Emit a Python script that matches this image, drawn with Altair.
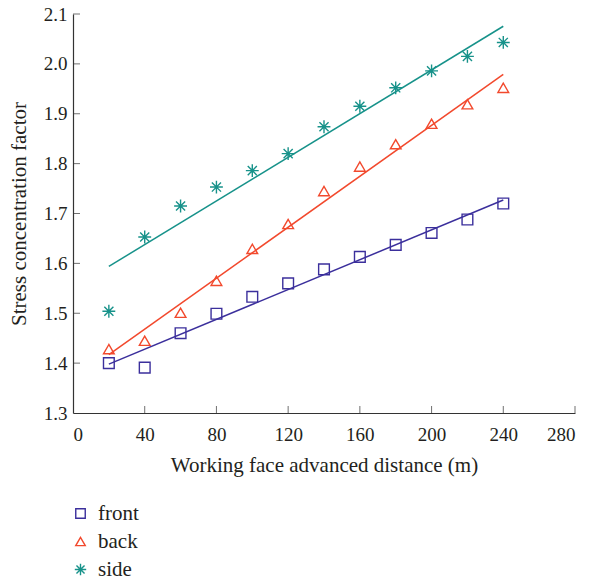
import altair as alt
import pandas as pd

# Working face advanced distance (m)
distance = [20, 40, 60, 80, 100, 120, 140, 160, 180, 200, 220, 240]

# Stress concentration factor measured at each monitoring side
front = [1.400, 1.391, 1.460, 1.499, 1.533, 1.560, 1.588, 1.613, 1.637, 1.661, 1.688, 1.720]
back = [1.428, 1.445, 1.501, 1.565, 1.629, 1.679, 1.745, 1.794, 1.839, 1.880, 1.919, 1.952]
side = [1.504, 1.653, 1.715, 1.753, 1.786, 1.820, 1.874, 1.915, 1.952, 1.986, 2.015, 2.043]

series_names = ["front", "back", "side"]
series_colors = ["#3b2f9c", "#f2492d", "#17928a"]
asterisk = "M0,-1.2L0,1.2M-1.2,0L1.2,0M-0.85,-0.85L0.85,0.85M-0.85,0.85L0.85,-0.85"
series_shapes = ["square", "triangle-up", asterisk]

x_ticks = [0, 40, 80, 120, 160, 200, 240, 280]
y_ticks = [1.3, 1.4, 1.5, 1.6, 1.7, 1.8, 1.9, 2.0, 2.1]

rows = []
for name, vals in zip(series_names, [front, back, side]):
    for d, v in zip(distance, vals):
        rows.append({"distance": d, "factor": v, "series": name})
df = pd.DataFrame(rows)

W, H = 502, 399
FONT = "Liberation Serif"

x_scale = alt.Scale(domain=[0, 280], nice=False)
y_scale = alt.Scale(domain=[1.3, 2.1], nice=False, zero=False)

x_axis = alt.Axis(values=x_ticks, format="d", title="Working face advanced distance (m)",
                  tickSize=0, labelPadding=12, titlePadding=10, grid=False)
y_axis = alt.Axis(values=y_ticks, format=".1f", title="Stress concentration factor",
                  tickSize=0, labelPadding=6, titlePadding=14, grid=False)

X = alt.X("distance:Q", scale=x_scale, axis=x_axis)
Y = alt.Y("factor:Q", scale=y_scale, axis=y_axis)

base = alt.Chart(df)

# least-squares fit line for each series, drawn over the measured range
fit_layers = [
    base.transform_filter(alt.datum.series == name)
    .transform_regression("distance", "factor", extent=[20, 240])
    .mark_line(color=col, strokeWidth=1.5)
    .encode(x=X, y=Y)
    for name, col in zip(series_names, series_colors)
]

points = base.mark_point(filled=False, strokeWidth=1.4, size=115, opacity=1).encode(
    x=X,
    y=Y,
    color=alt.Color("series:N", sort=series_names,
                    scale=alt.Scale(domain=series_names, range=series_colors),
                    legend=alt.Legend(title=None, orient="none", legendX=-3, legendY=489,
                                      labelFont=FONT, labelFontSize=21, labelColor="#231f20",
                                      symbolSize=90, symbolStrokeWidth=1.4, rowPadding=6,
                                      labelOffset=7)),
    shape=alt.Shape("series:N", sort=series_names,
                    scale=alt.Scale(domain=series_names, range=series_shapes)),
)

# inward tick marks on both axes
xt = alt.Chart(pd.DataFrame({"t": x_ticks[1:]})).mark_tick(
    color="#333333", size=7, thickness=1
).encode(x=alt.X("t:Q", scale=x_scale, axis=x_axis), y=alt.value(H - 3.5))

yt = alt.Chart(pd.DataFrame({"t": y_ticks[1:]})).mark_tick(
    color="#333333", size=7, thickness=1
).encode(y=alt.Y("t:Q", scale=y_scale, axis=y_axis), x=alt.value(3.5))

chart = alt.layer(*fit_layers, points, xt, yt).properties(
    width=W, height=H,
    autosize=alt.AutoSizeParams(type="none"),
    padding={"left": 73, "top": 14, "right": 16, "bottom": 171},
).configure_view(stroke=None).configure_axis(
    domainColor="#333333", domainWidth=1.2,
    labelFont=FONT, labelFontSize=19, labelColor="#231f20",
    titleFont=FONT, titleFontSize=21, titleFontWeight="normal", titleColor="#231f20",
)

chart.save("out.html", embed_options={"renderer": "svg", "actions": False})
